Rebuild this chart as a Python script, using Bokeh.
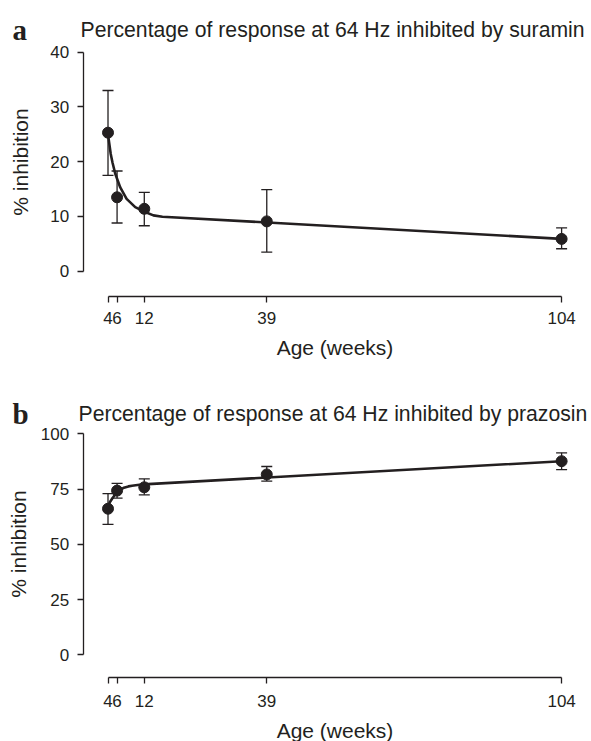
from bokeh.plotting import figure
from bokeh.layouts import column
from bokeh.models import Range1d, FixedTicker, Whisker, TeeHead, ColumnDataSource, Label
from bokeh.embed import file_html
from bokeh.resources import INLINE

# ---- data ----
weeks = [4, 6, 12, 39, 104]
week_ticks = [4, 6, 12, 39, 104]

suramin_mean = [25.3, 13.5, 11.4, 9.1, 5.9]
suramin_upper = [33.0, 18.3, 14.4, 14.9, 7.9]
suramin_lower = [17.5, 8.8, 8.3, 3.5, 4.1]
suramin_fit_x = [4, 4.3, 4.6, 5.0, 5.6, 6.7, 8.1, 10, 12.2, 14, 16, 104]
suramin_fit_y = [25.0, 23.2, 21.4, 19.8, 17.8, 15.3, 13.2, 11.7, 10.8, 10.2, 9.95, 5.9]
suramin_yticks = [0, 10, 20, 30, 40]

prazosin_mean = [66.1, 74.3, 75.8, 81.6, 87.6]
prazosin_upper = [72.9, 77.6, 79.6, 85.2, 91.4]
prazosin_lower = [59.0, 70.9, 72.4, 78.6, 83.8]
prazosin_fit_x = [4, 4.4, 4.9, 5.5, 6, 7, 7.5, 8.5, 9.3, 10.5, 11.8, 104]
prazosin_fit_y = [66.8, 69.0, 70.6, 72.3, 73.4, 75.0, 75.6, 76.2, 76.5, 76.8, 77.1, 87.6]
prazosin_yticks = [0, 25, 50, 75, 100]

INK = "#231f20"
SANS = "Liberation Sans"
SERIF = "Liberation Serif"
W = 591
X_RANGE = (-19.70, 110.59)   # frame spans the whole canvas width
Y_AXIS_AT = -1.47            # where the left axis sits (x data units)


def make_panel(letter, title, mean, upper, lower, fit_x, fit_y, yticks,
               yrange, x_axis_at, height, baseline, title_x, xstd, ystd):
    p = figure(width=W, height=height, output_backend="svg", toolbar_location=None,
               x_range=Range1d(*X_RANGE), y_range=Range1d(*yrange),
               min_border=0, min_border_left=0, min_border_right=0,
               min_border_top=0, min_border_bottom=0)
    p.outline_line_color = None
    p.xgrid.visible = False
    p.ygrid.visible = False

    src = ColumnDataSource(dict(x=weeks, y=mean, upper=upper, lower=lower))
    w = Whisker(base="x", upper="upper", lower="lower", source=src,
                line_color=INK, line_width=1.3,
                upper_head=TeeHead(size=11, line_color=INK, line_width=1.3),
                lower_head=TeeHead(size=11, line_color=INK, line_width=1.3))
    p.add_layout(w)
    p.line(fit_x, fit_y, line_color=INK, line_width=2.6)
    p.scatter("x", "y", source=src, marker="circle", size=11,
              fill_color=INK, line_color=INK)

    xa = p.xaxis[0]
    xa.fixed_location = x_axis_at
    xa.ticker = FixedTicker(ticks=week_ticks)
    xa.bounds = (week_ticks[0], week_ticks[-1])
    xa.axis_label = "Age (weeks)"
    xa.major_label_standoff = xstd[0]
    xa.axis_label_standoff = xstd[1]

    ya = p.yaxis[0]
    ya.fixed_location = Y_AXIS_AT
    ya.ticker = FixedTicker(ticks=yticks)
    ya.bounds = (yticks[0], yticks[-1])
    ya.axis_label = "% inhibition"
    ya.major_label_standoff = ystd[0]
    ya.axis_label_standoff = ystd[1]

    for ax in (xa, ya):
        ax.axis_line_color = INK
        ax.axis_line_width = 1.3
        ax.major_tick_line_color = INK
        ax.major_tick_line_width = 1.3
        ax.major_tick_out = 6
        ax.major_tick_in = 0
        ax.minor_tick_line_color = None
        ax.major_label_text_font = SANS
        ax.major_label_text_font_size = "17px"
        ax.major_label_text_color = INK
        ax.axis_label_text_font = SANS
        ax.axis_label_text_font_size = "21px"
        ax.axis_label_text_font_style = "normal"
        ax.axis_label_text_color = INK

    p.add_layout(Label(x=12, y=height - baseline, x_units="screen", y_units="screen",
                       text=letter, text_font=SERIF, text_font_style="bold",
                       text_font_size="29px", text_color=INK,
                       text_baseline="alphabetic"))
    p.add_layout(Label(x=title_x, y=height - baseline, x_units="screen", y_units="screen",
                       text=title, text_font=SANS, text_font_size="21.2px",
                       text_color=INK, text_baseline="alphabetic"))
    return p


pa = make_panel("a", "Percentage of response at 64 Hz inhibited by suramin",
                suramin_mean, suramin_upper, suramin_lower,
                suramin_fit_x, suramin_fit_y, suramin_yticks,
                (-18.50, 49.44), -4.62, 372, 29, 80, (9, 9), (8, 16))
pb = make_panel("b", "Percentage of response at 64 Hz inhibited by prazosin",
                prazosin_mean, prazosin_upper, prazosin_lower,
                prazosin_fit_x, prazosin_fit_y, prazosin_yticks,
                (-39.23, 127.74), -10.41, 369, 41.3, 78, (11, 9), (8, 8))

layout = column(pa, pb, spacing=0)
open("out.html", "w").write(file_html(layout, INLINE))
